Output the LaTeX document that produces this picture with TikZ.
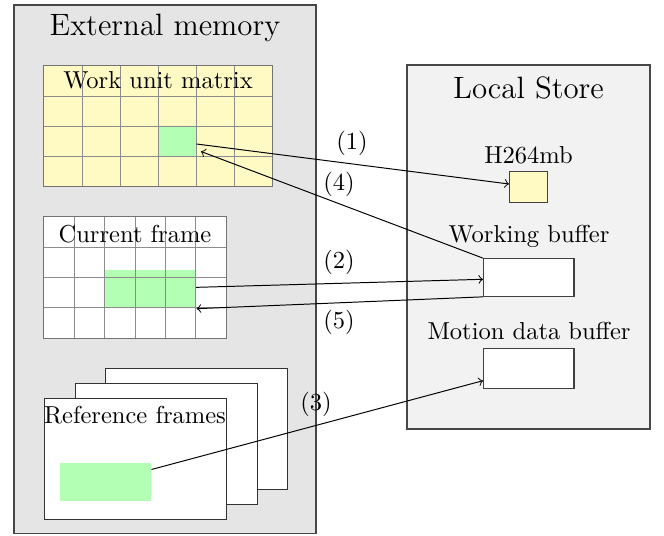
\documentclass[tikz,border=0pt]{standalone}
\usetikzlibrary{fit,calc}
\definecolor{yfill}{RGB}{255,249,196}
\definecolor{gfill}{RGB}{179,255,179}
\begin{document}
\begin{tikzpicture}[x=0.408pt,y=-0.408pt,
  container/.style={draw=black!72, thick, inner sep=0pt},
  boxfit/.style={inner sep=0pt},
  gridline/.style={draw=black!45, line width=0.35pt},
  matborder/.style={draw=black!55, line width=0.6pt},
  frame/.style={draw=black!80, fill=white, line width=0.4pt, inner sep=0pt},
  buf/.style={draw=black!75, line width=0.45pt, inner sep=0pt},
  title/.style={font=\fontsize{12.6}{15}\selectfont},
  arr/.style={->, line width=0.4pt},
  lbl/.style={inner sep=0pt}]
\useasboundingbox (0,0) rectangle (664,536);

% External memory
\node[container, fill=black!10, fit={(14,5) (316,533.5)}] (ext) {};
\node[title] (exttitle) at (165,28) {External memory};

% Local store
\node[container, fill=black!5, fit={(407,65) (650,429)}] (ls) {};
\node[title] (lstitle) at (528.5,88) {Local Store};

% Work unit matrix
\node[boxfit, fill=yfill, fit={(44,66) (272,186)}] (wum) {};
\node[boxfit, fill=gfill, fit={(158,126) (196,156)}] (wcell) {};
\foreach \i in {1,...,5} \draw[gridline] ({44+38*\i},66) -- ({44+38*\i},186);
\foreach \j in {1,2,3} \draw[gridline] (44,{66+30*\j}) -- (272,{66+30*\j});
\draw[matborder] (wum.north west) rectangle (wum.south east);
\node (wumlabel) at (158,80) {Work unit matrix};

% Current frame
\node[boxfit, fill=white, fit={(44,217) (226,338)}] (cf) {};
\node[boxfit, fill=gfill, fit={(105.3,270) (195.7,307.7)}] (cgreen) {};
\foreach \i in {1,...,5} \draw[gridline] ({44+182/6*\i},217) -- ({44+182/6*\i},338);
\foreach \j in {1,2,3} \draw[gridline] (44,{217+121/4*\j}) -- (226,{217+121/4*\j});
\draw[matborder] (cf.north west) rectangle (cf.south east);
\node (cflabel) at (135,234) {Current frame};

% Reference frames
\node[frame, fit={(105,368) (287,489)}] (rf3) {};
\node[frame, fit={(75,383) (257,504)}] (rf2) {};
\node[frame, fit={(44,398) (226,519)}] (rf1) {};
\node[boxfit, fill=gfill, fit={(60,463) (151,501)}] (rgreen) {};
\node (rflabel) at (135,415) {Reference frames};

% Local store contents
\node (h264label) at (528.5,155) {H264mb};
\node[buf, fill=yfill, fit={(509.5,171.7) (547.5,202.3)}] (h264) {};
\node (wblabel) at (529,236) {Working buffer};
\node[buf, fill=white, fit={(483.5,258.7) (574,296.3)}] (wb) {};
\node (mdblabel) at (529,331) {Motion data buffer};
\node[buf, fill=white, fit={(483.5,348.3) (574,388.3)}] (mdb) {};

% Connectors
\draw[arr] ($(wcell.east)+(0,3)$) -- ($(h264.west)+(0,-3)$);
\draw[arr] (wb.north west) -- ($(wcell.south east)+(4.5,-5)$);
\draw[arr] ($(cgreen.east)+(0,-1.5)$) -- ($(wb.west)+(0,1.8)$);
\draw[arr] (wb.south west) -- ($(cgreen.south east)+(0.5,0.5)$);
\draw[arr] ($(rgreen.east)+(0,-12.5)$) -- ($(mdb.west)+(0,12.4)$);

% Labels
\node[lbl] (l1) at (352,143) {(1)};
\node[lbl] (l4) at (339,184) {(4)};
\node[lbl] (l2) at (339,262) {(2)};
\node[lbl] (l5) at (339,322) {(5)};
\node[lbl] (l3) at (316,404) {(3)};
\end{tikzpicture}
\end{document}
